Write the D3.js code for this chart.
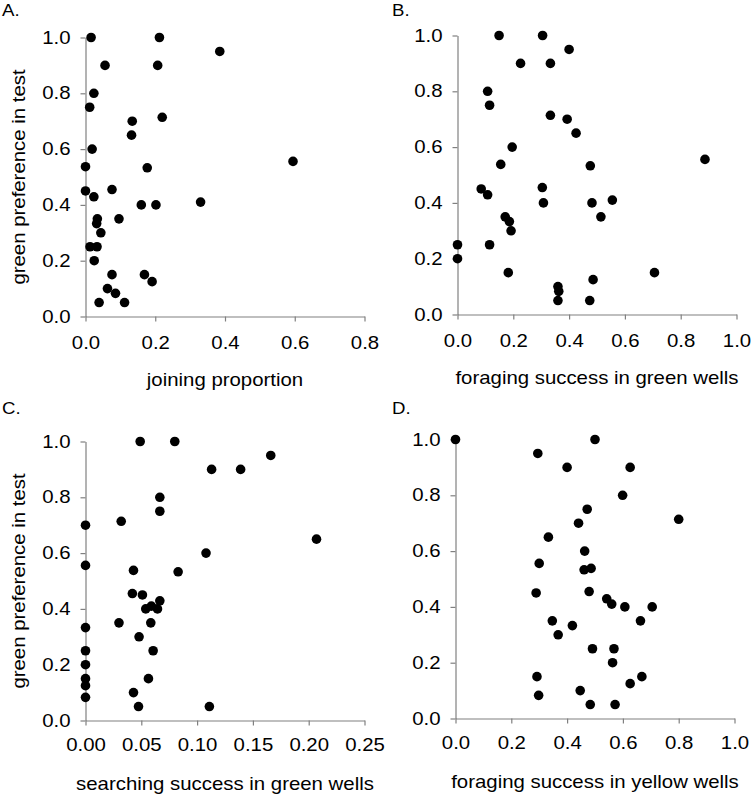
<!DOCTYPE html>
<html><head><meta charset="utf-8">
<script src="https://cdn.jsdelivr.net/npm/d3@7"></script>
<style>body{margin:0;background:#fff}svg{display:block}</style>
</head><body>
<svg id="c" width="752" height="798"></svg>
<script>
// Panel A: joining proportion
const aX = [0.016,0.212,0.385,0.056,0.207,0.024,0.012,0.134,0.220,0.132,0.019,0.0,0.177,0.595,0.0,0.076,0.024,0.160,0.202,0.330,0.034,0.032,0.096,0.044,0.013,0.033,0.025,0.076,0.169,0.191,0.063,0.086,0.039,0.112];
const aY = [1.0,1.0,0.95,0.9,0.9,0.8,0.75,0.70,0.714,0.65,0.6,0.537,0.533,0.556,0.45,0.455,0.429,0.4,0.4,0.41,0.35,0.333,0.35,0.3,0.25,0.25,0.2,0.15,0.15,0.125,0.1,0.083,0.05,0.05];
// Panel B: foraging success in green wells
const bX = [0.149,0.305,0.40,0.226,0.333,0.108,0.115,0.333,0.393,0.425,0.196,0.155,0.476,0.887,0.085,0.108,0.304,0.308,0.482,0.555,0.514,0.171,0.186,0.192,0.0,0.115,0.0,0.182,0.706,0.486,0.36,0.363,0.36,0.474];
const bY = [1.0,1.0,0.95,0.9,0.9,0.8,0.75,0.714,0.70,0.65,0.6,0.538,0.533,0.556,0.45,0.429,0.455,0.4,0.4,0.41,0.35,0.35,0.333,0.3,0.25,0.25,0.2,0.15,0.15,0.125,0.1,0.083,0.05,0.05];
// Panel C: searching success in green wells
const cX = [0.049,0.080,0.166,0.113,0.139,0.0666,0.0666,0.032,0.0,0.108,0.0,0.043,0.083,0.207,0.042,0.051,0.0666,0.059,0.054,0.0645,0.030,0.0585,0.0,0.048,0.0,0.0606,0.0,0.0,0.0564,0.0,0.043,0.0,0.0475,0.111];
const cY = [1.0,1.0,0.95,0.9,0.9,0.8,0.75,0.714,0.70,0.6,0.556,0.538,0.533,0.65,0.455,0.45,0.429,0.41,0.4,0.4,0.35,0.35,0.333,0.3,0.25,0.25,0.2,0.15,0.15,0.125,0.1,0.083,0.05,0.05];
// Panel D: foraging success in yellow wells
const dX = [0.0,0.50,0.295,0.40,0.626,0.599,0.472,0.441,0.80,0.333,0.463,0.30,0.461,0.486,0.289,0.479,0.542,0.560,0.607,0.705,0.347,0.419,0.663,0.368,0.491,0.568,0.563,0.292,0.668,0.626,0.298,0.447,0.483,0.572];
const dY = [1.0,1.0,0.95,0.9,0.9,0.8,0.75,0.70,0.714,0.65,0.6,0.556,0.533,0.538,0.45,0.455,0.429,0.41,0.4,0.4,0.35,0.333,0.35,0.3,0.25,0.25,0.2,0.15,0.15,0.125,0.083,0.1,0.05,0.05];

const yTicks = [0,0.2,0.4,0.6,0.8,1.0];
const xTicksA = [0,0.2,0.4,0.6,0.8];
const xTicksB = [0,0.2,0.4,0.6,0.8,1.0];
const xTicksC = [0,0.05,0.10,0.15,0.20,0.25];
const xTicksD = [0,0.2,0.4,0.6,0.8,1.0];
const letters = ["A.","B.","C.","D."];
const xTitles = ["joining proportion","foraging success in green wells","searching success in green wells","foraging success in yellow wells"];
const yTitle = "green preference in test";

const K = 1.165; // horizontal glyph stretch of reference
const FONT = "'Liberation Sans', Arial, sans-serif";
const svg = d3.select("#c");

const panels = [
  {x:aX,y:aY,xd:[0,0.8],xt:xTicksA,fmt:".1f",xr:[85.5,364.5],yr:[316.5,37.5],lx:2,ly:16,pad:15,title:true},
  {x:bX,y:bY,xd:[0,1],xt:xTicksB,fmt:".1f",xr:[457.5,736.5],yr:[314.5,35.5],lx:392,ly:16,pad:15,title:false},
  {x:cX,y:cY,xd:[0,0.25],xt:xTicksC,fmt:".2f",xr:[85.5,364.5],yr:[720.5,441.5],lx:2,ly:414,pad:13,title:true},
  {x:dX,y:dY,xd:[0,1],xt:xTicksD,fmt:".1f",xr:[455.5,734.5],yr:[718.5,439.5],lx:392,ly:414,pad:13,title:false}
];

panels.forEach((p,i)=>{
  const xs = d3.scaleLinear().domain(p.xd).range(p.xr);
  const ys = d3.scaleLinear().domain([0,1]).range(p.yr);
  const g = svg.append("g");

  const gx = g.append("g").attr("transform",`translate(0,${p.yr[0]})`)
    .call(d3.axisBottom(xs).tickValues(p.xt).tickFormat(d3.format(p.fmt)).tickSize(5).tickSizeOuter(0).tickPadding(p.pad));
  const gy = g.append("g").attr("transform",`translate(${p.xr[0]},0)`)
    .call(d3.axisLeft(ys).tickValues(yTicks).tickFormat(d3.format(".1f")).tickSize(5).tickSizeOuter(0).tickPadding(10));
  [gx,gy].forEach(a=>{
    a.selectAll("path,line").attr("stroke","#808080").attr("stroke-width",1.2);
    a.selectAll("text").attr("fill","#000").style("font-family",FONT).style("font-size","17.5px");
  });
  gx.selectAll("text").attr("transform",`scale(${K},1)`);
  gy.selectAll("text").attr("x",-15/K).attr("transform",`scale(${K},1)`);

  g.append("g").selectAll("circle").data(p.x.map((v,j)=>[v,p.y[j]])).join("circle")
    .attr("cx",d=>xs(d[0])).attr("cy",d=>ys(d[1])).attr("r",4.8).attr("fill","#000");

  // x title
  const cx = (p.xr[0]+p.xr[1])/2;
  g.append("text").attr("transform",`translate(${cx},${p.yr[0]+69}) scale(${K},1)`)
    .attr("text-anchor","middle").style("font-family",FONT).style("font-size","17.5px").attr("fill","#000")
    .text(xTitles[i]);
  // y title
  if(p.title){
    const cy = (p.yr[0]+p.yr[1])/2;
    g.append("text").attr("transform",`translate(25,${cy}) rotate(-90) scale(${K},1)`)
      .attr("text-anchor","middle").style("font-family",FONT).style("font-size","17.5px").attr("fill","#000")
      .text(yTitle);
  }
  // panel letter
  g.append("text").attr("transform",`translate(${p.lx},${p.ly}) scale(${K},1)`)
    .style("font-family",FONT).style("font-size","16px").attr("fill","#000").text(letters[i]);
});
</script>
</body></html>
